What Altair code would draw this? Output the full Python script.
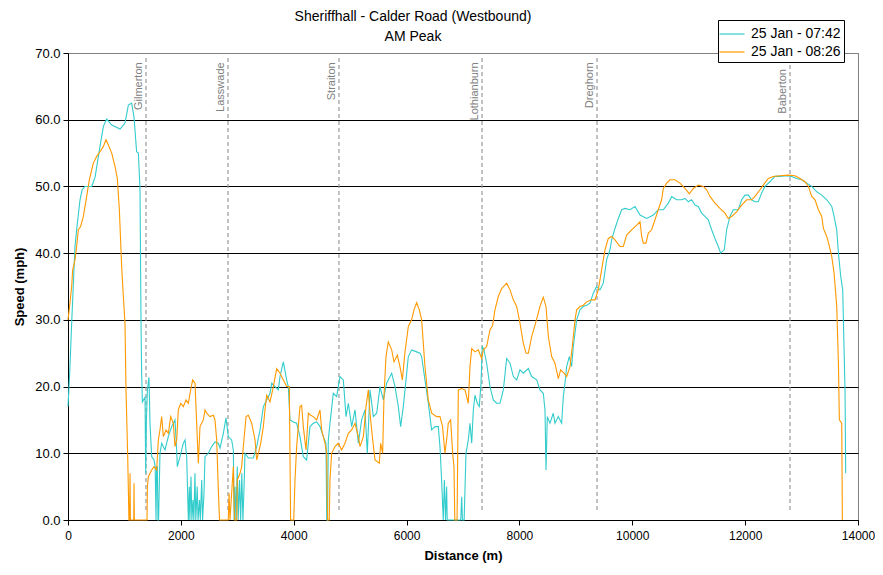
import altair as alt
import pandas as pd

SERIES_NAMES = ["25 Jan - 07:42", "25 Jan - 08:26"]
SERIES_COLORS = ["#33CCCC", "#FF9900"]

# (distance m, speed mph) for run 07:42
RUN_0742 = [
    (0, 17), (30, 22), (65, 29.5), (124, 41), (153, 43.5), (213, 48), (250, 49.5), (300, 50),
    (420, 50), (480, 51.4), (567, 56), (627, 59), (685, 60.1), (775, 59.2), (922, 58.6),
    (1010, 59.5), (1070, 62.2), (1128, 62.5), (1170, 60.4), (1216, 55.2), (1247, 55),
    (1276, 49.5), (1294, 29.5), (1305, 22), (1318, 17.7), (1365, 18.4), (1377, 7), (1390, 15),
    (1407, 19.5), (1435, 21.4), (1453, 14.5), (1483, 9.5), (1524, 9), (1545, 8), (1560, 0),
    (1570, 8), (1583, 8), (1595, 0), (1605, 0), (1630, 10), (1660, 11.5), (1719, 10.5),
    (1778, 12.5), (1837, 14), (1896, 15), (1926, 10.5), (1937, 8), (1985, 9.5), (2044, 11.5),
    (2074, 12), (2103, 9.5), (2133, 0), (2150, 5), (2160, 0), (2180, 6.5), (2195, 0),
    (2215, 3), (2230, 0), (2250, 7), (2265, 0), (2290, 5), (2305, 0), (2330, 3), (2345, 0),
    (2370, 6), (2385, 0), (2410, 4), (2428, 9.5), (2487, 10), (2546, 11), (2605, 11.7),
    (2664, 11.5), (2694, 10.8), (2753, 13), (2800, 15.3), (2841, 12.5), (2900, 12),
    (2930, 10.5), (2945, 0), (2960, 5), (2975, 0), (3000, 8), (3015, 0), (3040, 6), (3060, 0),
    (3080, 7), (3100, 0), (3120, 5), (3137, 10), (3196, 9.3), (3285, 9.3), (3344, 11),
    (3403, 13.5), (3462, 17), (3521, 18), (3580, 19), (3610, 20.5), (3668, 20), (3727, 19.5),
    (3757, 21.5), (3816, 23.7), (3875, 21), (3904, 20), (3934, 15), (3993, 14.7), (4052, 14.5),
    (4111, 12.5), (4170, 9.5), (4229, 9), (4288, 14), (4347, 14.5), (4407, 14.7), (4466, 14),
    (4525, 12.5), (4572, 11.5), (4585, 0), (4600, 0), (4613, 12), (4643, 14.5), (4702, 19),
    (4761, 18.5), (4820, 21.5), (4879, 21), (4927, 15.5), (4968, 17.5), (5027, 14),
    (5086, 16.5), (5145, 11.5), (5204, 15), (5263, 16.5), (5304, 10), (5352, 19.5),
    (5411, 15.5), (5470, 16), (5529, 20), (5588, 18), (5647, 20.5), (5736, 22), (5795, 20),
    (5854, 17), (5895, 14), (5942, 17), (5990, 21), (6031, 24.5), (6090, 25.5), (6179, 25.2),
    (6238, 25), (6267, 24.5), (6326, 21), (6385, 17.5), (6444, 13.5), (6503, 14), (6562, 14),
    (6592, 11), (6621, 6), (6650, 0), (6670, 6), (6690, 0), (6710, 5), (6720, 0), (6960, 0),
    (6977, 3.5), (6990, 0), (7020, 0), (7053, 10), (7094, 12), (7124, 14.5), (7154, 11.5),
    (7183, 16.5), (7212, 18.7), (7253, 17.5), (7289, 17), (7319, 20.5), (7342, 26),
    (7372, 25.5), (7419, 23.5), (7478, 20), (7537, 18), (7597, 17.5), (7656, 17.5),
    (7715, 19.5), (7774, 24.2), (7833, 23.5), (7892, 21.5), (7951, 21), (8010, 22.5),
    (8069, 22), (8158, 22.7), (8217, 21.5), (8306, 21), (8364, 19.5), (8423, 19), (8453, 16.5),
    (8471, 7.5), (8494, 15.5), (8541, 14.5), (8600, 16), (8630, 14.5), (8689, 15.5),
    (8748, 14.5), (8778, 18.5), (8807, 20.5), (8837, 23), (8884, 24.5), (8925, 23), (8955, 26),
    (9014, 30), (9073, 31.5), (9132, 32), (9191, 32.2), (9250, 32.5), (9309, 34), (9368, 35),
    (9427, 34.5), (9486, 35.5), (9545, 39), (9604, 40.5), (9634, 42), (9693, 43.7),
    (9752, 45.2), (9812, 46.5), (9871, 46.7), (9959, 46.5), (10048, 47), (10137, 45.7),
    (10255, 45.2), (10373, 45.7), (10461, 46.5), (10550, 46.5), (10639, 47.5), (10698, 48.5),
    (10787, 48), (10875, 48), (10934, 48.2), (10993, 47.7), (11052, 48), (11111, 47.2),
    (11170, 47), (11229, 46), (11288, 45.5), (11347, 45), (11406, 43.5), (11465, 42.2),
    (11524, 41), (11566, 40), (11630, 40.5), (11672, 43.5), (11731, 45.5), (11790, 46.5),
    (11879, 46.5), (11938, 48), (11997, 48.7), (12056, 48.7), (12115, 48), (12174, 47.7),
    (12233, 47.7), (12292, 49), (12351, 50), (12440, 50.7), (12529, 51.5), (12617, 51.5),
    (12736, 51.6), (12825, 51.5), (12914, 51.2), (13002, 51), (13091, 50.5), (13180, 50),
    (13269, 49.2), (13357, 48.7), (13446, 48), (13535, 47), (13576, 45.5), (13623, 43.5),
    (13653, 40), (13694, 36.5), (13729, 34.5), (13741, 30), (13770, 19.5), (13782, 7),
]

# (distance m, speed mph) for run 08:26
RUN_0826 = [
    (0, 30), (35, 32.5), (65, 35), (83, 37.5), (124, 39), (153, 41), (183, 43.5), (224, 44),
    (272, 45.5), (331, 48.5), (378, 51), (420, 52.5), (449, 53.5), (508, 54.5), (567, 55.2),
    (627, 56), (673, 57), (715, 56.2), (775, 55), (833, 53), (874, 51.2), (910, 46.5),
    (951, 38), (981, 33.5), (1010, 29.5), (1028, 19.5), (1058, 9.5), (1080, 0), (1092, 0),
    (1099, 7), (1106, 0), (1165, 0), (1170, 5.5), (1176, 0), (1400, 0), (1407, 5),
    (1424, 6.5), (1483, 7.5), (1524, 8), (1571, 7.5), (1601, 12), (1630, 13.5), (1660, 15.5),
    (1690, 12.5), (1737, 13.5), (1778, 13), (1820, 15.5), (1867, 14.5), (1896, 11),
    (1926, 12), (1955, 16.5), (1997, 17.5), (2044, 17), (2091, 18), (2133, 17.5),
    (2174, 19.5), (2209, 21), (2251, 20.5), (2280, 14.5), (2310, 8.5), (2339, 14),
    (2369, 14.5), (2398, 15), (2428, 16.5), (2457, 16), (2516, 15.5), (2576, 15.7),
    (2605, 15), (2635, 12), (2664, 4.5), (2685, 0), (2840, 0), (2855, 4), (2870, 0),
    (2930, 8), (2950, 0), (2990, 0), (3000, 6), (3049, 7), (3078, 8), (3107, 11),
    (3155, 15.5), (3196, 15.7), (3255, 14.5), (3314, 12), (3344, 9), (3373, 10),
    (3415, 11.5), (3462, 14), (3491, 16.5), (3521, 18.7), (3580, 17.7), (3639, 20),
    (3698, 22.7), (3757, 22), (3816, 21), (3875, 20), (3922, 20), (3945, 0), (4000, 0),
    (4023, 6), (4052, 11), (4111, 17), (4140, 17.2), (4170, 14), (4218, 10.5), (4259, 16),
    (4300, 15.7), (4347, 15.5), (4407, 15), (4466, 16.5), (4495, 13.5), (4554, 11.5),
    (4584, 10), (4600, 0), (4630, 0), (4643, 6), (4672, 10), (4731, 11), (4790, 11.5),
    (4849, 10.5), (4908, 11.5), (4968, 13), (5027, 13.5), (5086, 14.5), (5145, 12.5),
    (5175, 11), (5234, 12.5), (5281, 17), (5322, 19.5), (5352, 16), (5400, 12), (5441, 9),
    (5517, 8.5), (5541, 11.5), (5576, 10), (5600, 18.5), (5635, 24.5), (5676, 26.7),
    (5736, 25.5), (5777, 23.7), (5836, 24.7), (5883, 23), (5925, 21), (5972, 25.2),
    (6031, 29), (6090, 30), (6131, 31.5), (6179, 32.6), (6226, 31.5), (6267, 30),
    (6326, 23), (6385, 18), (6444, 16), (6533, 15.5), (6592, 15.5), (6638, 14), (6680, 10),
    (6710, 12), (6739, 14.5), (6781, 15), (6817, 10), (6840, 8), (6855, 0), (6895, 0),
    (6917, 19.5), (6977, 19.7), (7035, 19.5), (7094, 17.5), (7124, 23), (7154, 25.7),
    (7212, 25.2), (7271, 25.5), (7330, 24.2), (7360, 25.5), (7419, 26), (7478, 28.5),
    (7526, 29.2), (7566, 31.5), (7626, 33.5), (7685, 34.7), (7774, 35.5), (7833, 34.5),
    (7892, 33), (7951, 32), (8010, 29.5), (8069, 26.5), (8117, 25), (8158, 25), (8217, 27.5),
    (8276, 29.2), (8317, 30.5), (8364, 32), (8423, 33.4), (8471, 32), (8512, 27.5),
    (8571, 24.5), (8630, 23.5), (8689, 21.2), (8731, 22.5), (8790, 22), (8837, 21.5),
    (8896, 23), (8943, 26.5), (8985, 30), (9014, 31.5), (9073, 32), (9132, 32.2),
    (9191, 32.7), (9280, 33), (9339, 33), (9397, 34.5), (9427, 36), (9486, 39),
    (9516, 40.5), (9575, 42.2), (9634, 42.5), (9693, 42), (9782, 41), (9841, 41),
    (9900, 42.7), (9988, 43.5), (10078, 44.2), (10137, 44.7), (10166, 42.5), (10196, 41.5),
    (10243, 41.5), (10284, 43), (10343, 43.5), (10402, 45), (10461, 46.5), (10520, 48),
    (10550, 49.7), (10609, 50.5), (10668, 51), (10757, 51), (10845, 50.5), (10934, 49.7),
    (11010, 48.9), (11081, 49.7), (11170, 50.2), (11259, 50), (11318, 49.5), (11377, 48.5),
    (11465, 47.5), (11554, 46.7), (11643, 46), (11701, 45.2), (11761, 45.5), (11849, 46.2),
    (11938, 47.2), (12027, 48), (12115, 48), (12174, 48.5), (12263, 49.5), (12322, 50.2),
    (12410, 51.2), (12499, 51.5), (12617, 51.6), (12765, 51.7), (12883, 51.6), (12972, 51.2),
    (13061, 50.7), (13121, 50), (13180, 48.5), (13239, 48), (13298, 46.5), (13357, 45.5),
    (13387, 43.7), (13446, 42.5), (13493, 41), (13535, 39.5), (13576, 37), (13623, 32),
    (13653, 23.5), (13670, 15), (13712, 14.5), (13723, 0),
]

JUNCTIONS = ["Gilmerton", "Lasswade", "Straiton", "Lothianburn", "Dreghorn", "Baberton"]
JUNCTION_DIST = [1382, 2835, 4802, 7337, 9375, 12795]

X_TICKS = list(range(0, 14001, 2000))
Y_TICKS = list(range(0, 71, 10))

FONT = "Liberation Sans"

rows = []
for name, run in zip(SERIES_NAMES, [RUN_0742, RUN_0826]):
    for i, (d, s) in enumerate(run):
        rows.append({"series": name, "distance": d, "speed": s, "idx": i})
df = pd.DataFrame(rows)
jdf = pd.DataFrame({"junction": JUNCTIONS, "distance": JUNCTION_DIST})

x_scale = alt.Scale(domain=[0, 14000], nice=False)
y_scale = alt.Scale(domain=[0, 70], nice=False)

x_axis = alt.Axis(values=X_TICKS, format="d", grid=False, title="Distance (m)",
                  tickSize=5, labelPadding=5, titlePadding=8, labelFlush=False,
                  labelFontSize=12, domainColor="black", tickColor="black")
y_axis = alt.Axis(values=Y_TICKS, format=".1f", grid=True,
                  gridColor=alt.condition("datum.value == 70", alt.value("#808080"), alt.value("black")),
                  gridWidth=1, title="Speed (mph)", tickSize=5, labelPadding=3,
                  labelFlush=False, titlePadding=8, domainColor="black", tickColor="black")

rules = alt.Chart(jdf).mark_rule(color="#999999", strokeDash=[4, 3], strokeWidth=1.2).encode(
    x=alt.X("distance:Q", scale=x_scale, axis=x_axis),
    y=alt.datum(1.5, scale=y_scale, axis=y_axis),
    y2=alt.datum(69.5),
)

labels = alt.Chart(jdf).transform_calculate(
    ly="datum.junction == 'Baberton' ? 67.6 : 68.6"
).mark_text(angle=270, align="right", baseline="bottom", dy=-2,
            color="#808080", font=FONT, fontSize=11).encode(
    x=alt.X("distance:Q", scale=x_scale),
    y=alt.Y("ly:Q", scale=y_scale),
    text="junction:N",
)

lines = alt.Chart(df).mark_line(strokeWidth=1.1, interpolate="linear").encode(
    x=alt.X("distance:Q", scale=x_scale, axis=x_axis),
    y=alt.Y("speed:Q", scale=y_scale, axis=y_axis),
    color=alt.Color("series:N",
                    scale=alt.Scale(domain=SERIES_NAMES, range=SERIES_COLORS),
                    legend=alt.Legend(title=None, orient="none", legendX=650, legendY=-33,
                                      direction="vertical", symbolType="M-1.25,0H1.25",
                                      symbolSize=400, symbolStrokeWidth=1.2,
                                      labelFontSize=14, labelFont=FONT, labelColor="black",
                                      fillColor="white", strokeColor="black", padding=3,
                                      rowPadding=0, labelOffset=8)),
    order="idx:Q",
)

chart = alt.layer(rules, labels, lines).properties(
    width=790,
    height=467,
    autosize=alt.AutoSizeParams(type="none"),
    padding={"left": 60, "top": 45, "right": 17, "bottom": 47},
    title=alt.Title(["Sheriffhall - Calder Road (Westbound)", "AM Peak"],
                    fontSize=14, fontWeight="normal", font=FONT, color="black",
                    anchor="middle", dx=-50, dy=32, offset=8, lineHeight=20),
).configure_view(
    stroke="#808080", strokeWidth=1
).configure_axis(
    labelFont=FONT, titleFont=FONT, labelFontSize=13, titleFontSize=13,
    titleFontWeight="bold", labelColor="black", titleColor="black"
)

chart.save("out.html", embed_options={"renderer": "svg", "actions": False})
